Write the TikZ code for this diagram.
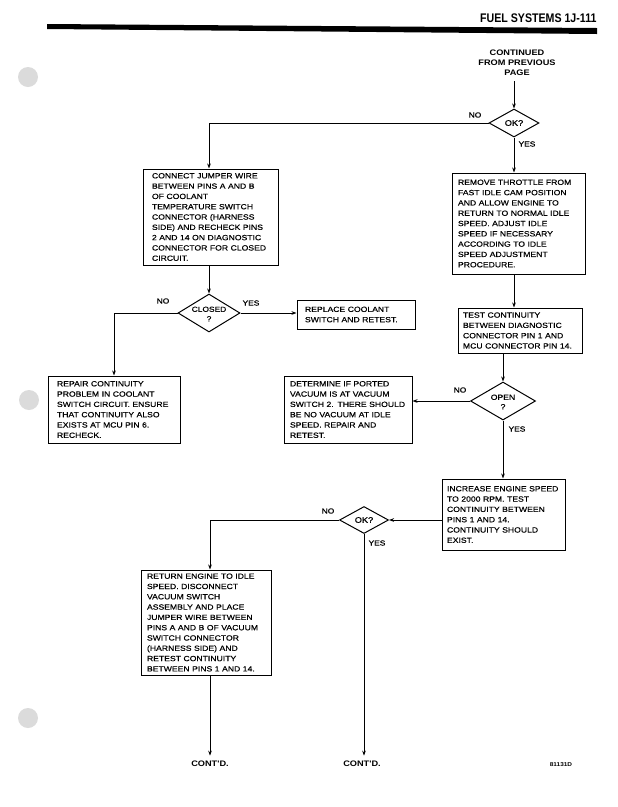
\documentclass[tikz,border=0pt]{standalone}
\usepackage{fontspec}
\setmainfont{Liberation Sans}
\newfontfamily\bxf[FakeStretch=1.15, UprightFeatures={FakeBold=0.35}]{Liberation Sans}
\newfontfamily\bbf[FakeStretch=1.15]{Liberation Sans Bold}
\newfontfamily\hdf[FakeStretch=0.85]{Liberation Sans Bold}
\usetikzlibrary{shapes.geometric,arrows.meta}
\begin{document}
\begin{tikzpicture}[x=1pt,y=-1pt,
  line width=1pt,
  arr/.style={-{Stealth[length=5pt,width=3.6pt]}},
  box/.style={draw, rectangle, align=left, font=\bxf\fontsize{7.5}{10.3}\selectfont, inner ysep=0pt},
  dia/.style={draw, diamond, inner sep=0pt},
  dtxt/.style={font=\bxf\fontsize{8}{9}\selectfont, align=center, inner sep=0pt},
  lbl/.style={font=\bxf\fontsize{7.3}{8}\selectfont, inner sep=0pt},
  boldtxt/.style={font=\bbf\fontsize{8}{10}\selectfont, align=center, inner sep=0pt},
  hole/.style={fill=gray!28}]
\useasboundingbox (0,0) rectangle (618,807);
\fill[white] (0,0) rectangle (618,807);
% punch holes
\fill[hole] (28,77) circle (10);
\fill[hole] (29,400) circle (10);
\fill[hole] (28,718) circle (10);
% header
\node[font=\hdf\fontsize{12.5}{14}\selectfont, anchor=east, inner sep=0pt] (hdr) at (597,18.5) {FUEL SYSTEMS 1J-111};
\fill (47,24) -- (597,28) -- (597,34) -- (47,29) -- cycle;
% start
\node[boldtxt] (cont0) at (517,63) {CONTINUED\\FROM PREVIOUS\\PAGE};
% decisions
\node[dia, minimum width=50pt, minimum height=28pt] (ok1) at (514,123) {};
\node[dtxt] at (ok1) {OK?};
\node[dia, minimum width=62pt, minimum height=38pt] (closed) at (209,313) {};
\node[dtxt, font=\bxf\fontsize{7.3}{9.5}\selectfont] at ([yshift=-1pt]closed.center) {CLOSED\\?};
\node[dia, minimum width=65pt, minimum height=38pt] (open) at (503,401) {};
\node[dtxt, font=\bxf\fontsize{7.5}{9.5}\selectfont] at ([yshift=-1pt]open.center) {OPEN\\?};
\node[dia, minimum width=49pt, minimum height=27pt] (ok2) at (364,520) {};
\node[dtxt] at (ok2) {OK?};
% boxes
\node[box, minimum width=135pt, minimum height=96pt, inner xsep=9pt, text width=117pt] (b1) at (210.5,217)
 {CONNECT JUMPER WIRE\\BETWEEN PINS A AND B\\OF COOLANT\\TEMPERATURE SWITCH\\CONNECTOR (HARNESS\\SIDE) AND RECHECK PINS\\2 AND 14 ON DIAGNOSTIC\\CONNECTOR FOR CLOSED\\CIRCUIT.};
\node[box, minimum width=133pt, minimum height=101pt, inner xsep=6pt, text width=121pt] (b2) at (518.5,223.5)
 {REMOVE THROTTLE FROM\\FAST IDLE CAM POSITION\\AND ALLOW ENGINE TO\\RETURN TO NORMAL IDLE\\SPEED. ADJUST IDLE\\SPEED IF NECESSARY\\ACCORDING TO IDLE\\SPEED ADJUSTMENT\\PROCEDURE.};
\node[box, minimum width=118pt, minimum height=29pt, inner xsep=8pt, text width=102pt] (repl) at (356,314.5)
 {REPLACE COOLANT\\SWITCH AND RETEST.};
\node[box, minimum width=132pt, minimum height=67pt, inner xsep=9pt, text width=114pt] (b3) at (114,409.5)
 {REPAIR CONTINUITY\\PROBLEM IN COOLANT\\SWITCH CIRCUIT. ENSURE\\THAT CONTINUITY ALSO\\EXISTS AT MCU PIN 6.\\RECHECK.};
\node[box, minimum width=124pt, minimum height=45pt, inner xsep=5pt, text width=114pt] (test) at (520,330.5)
 {TEST CONTINUITY\\BETWEEN DIAGNOSTIC\\CONNECTOR PIN 1 AND\\MCU CONNECTOR PIN 14.};
\node[box, minimum width=128pt, minimum height=67pt, inner xsep=6pt, text width=116pt] (det) at (348,409.5)
 {DETERMINE IF PORTED\\VACUUM IS AT VACUUM\\SWITCH 2. THERE SHOULD\\BE NO VACUUM AT IDLE\\SPEED. REPAIR AND\\RETEST.};
\node[box, minimum width=123pt, minimum height=71pt, inner xsep=5pt, text width=113pt] (inc) at (503.5,514.5)
 {INCREASE ENGINE SPEED\\TO 2000 RPM. TEST\\CONTINUITY BETWEEN\\PINS 1 AND 14.\\CONTINUITY SHOULD\\EXIST.};
\node[box, minimum width=130pt, minimum height=105pt, inner xsep=6pt, text width=118pt] (ret) at (206,622.5)
 {RETURN ENGINE TO IDLE\\SPEED. DISCONNECT\\VACUUM SWITCH\\ASSEMBLY AND PLACE\\JUMPER WIRE BETWEEN\\PINS A AND B OF VACUUM\\SWITCH CONNECTOR\\(HARNESS SIDE) AND\\RETEST CONTINUITY\\BETWEEN PINS 1 AND 14.};
% ends
\node[boldtxt] (cont1) at (210,764) {CONT'D.};
\node[boldtxt] (cont2) at (362,764) {CONT'D.};
\node[font=\bbf\fontsize{5.6}{7}\selectfont, inner sep=0pt] (code) at (561,765) {81131D};
% labels
\node[lbl] at (475,115) {NO};
\node[lbl] at (527,144) {YES};
\node[lbl] at (163,301) {NO};
\node[lbl] at (251,303) {YES};
\node[lbl] at (460,390) {NO};
\node[lbl] at (517,429) {YES};
\node[lbl] at (328,511) {NO};
\node[lbl] at (377,543) {YES};
% connectors
\draw[arr] ([yshift=-5pt]cont0.south -| ok1.north) -- (ok1.north);
\draw[arr] (ok1.west) -| (closed.north |- b1.north);
\draw[arr] (ok1.south) -- (ok1.south |- b2.north);
\draw[arr] (b1.south -| closed.north) -- (closed.north);
\draw[arr] (closed.west) -| (b3.north);
\draw[arr] (closed.east) -- (closed.east -| repl.west);
\draw[arr] (b2.south -| ok1.south) -- (test.north -| ok1.south);
\draw[arr] (open.north |- test.south) -- (open.north);
\draw[arr] (open.west) -- (open.west -| det.east);
\draw[arr] (open.south) -- (open.south |- inc.north);
\draw[arr] (ok2.east -| inc.west) -- (ok2.east);
\draw[arr] (ok2.west) -| ([xshift=4pt]ret.north);
\draw[arr] ([xshift=4pt]ret.south) -- ([xshift=4pt,yshift=5pt]ret.south |- cont1.north);
\draw[arr] (ok2.south) -- ([yshift=5pt]ok2.south |- cont2.north);
\end{tikzpicture}
\end{document}
